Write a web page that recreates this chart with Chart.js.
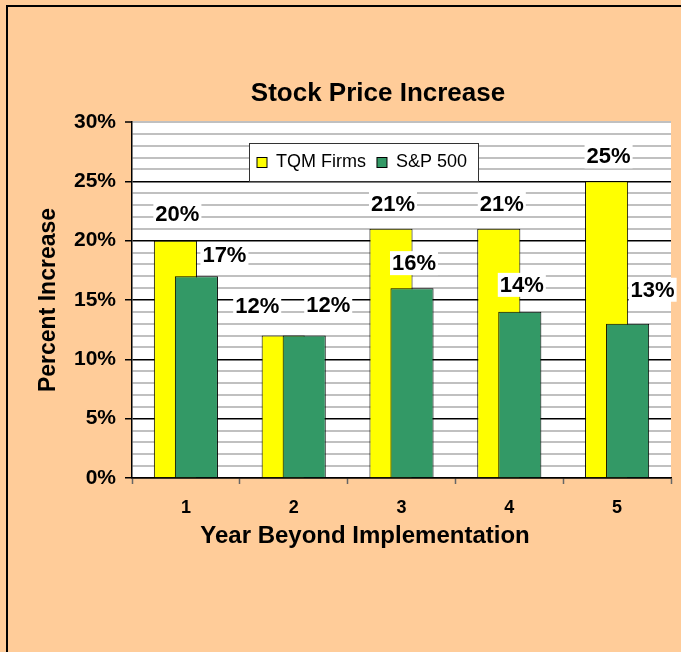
<!DOCTYPE html>
<html>
<head>
<meta charset="utf-8">
<script src="https://cdn.jsdelivr.net/npm/chart.js@4.4.1/dist/chart.umd.min.js"></script>
<style>
  body { margin: 0; background: #FFCC99; width: 681px; height: 652px; overflow: hidden; position: relative; }
  #frame { position: absolute; left: 6px; top: 5px; width: 720px; height: 700px; border-top: 2px solid #000; border-left: 2px solid #000; }
  canvas { position: absolute; left: 0; top: 0; }
</style>
</head>
<body>
<div id="frame"></div>
<canvas id="stockChart" width="681" height="652"></canvas>
<script>
const years = ['1', '2', '3', '4', '5'];
const tqmFirms = [20, 12, 21, 21, 25];
const sp500 = [17, 12, 16, 14, 13];
const yMax = 30;

// the value labels were dragged around by hand in the original, so each gets a nudge (px)
const tqmLabelShift = [[2, -26], [-26, -29], [2, -24], [3, -24], [2, -24]];
const spLabelShift = [[28, -20], [24, -30], [2, -24], [2, -26], [25, -33]];

const FONT = '"Liberation Sans", Arial, sans-serif';

const isMajor = c => c.tick && c.tick.value % 5 === 0;

const plotBackground = {
  id: 'plotBackground',
  beforeDraw(chart) {
    const { ctx, chartArea: a } = chart;
    ctx.save();
    ctx.fillStyle = '#fff';
    ctx.fillRect(a.left, a.top, a.right - a.left, a.bottom - a.top);
    ctx.restore();
  }
};

// green bars sit on top of the yellow ones
const greenOnTop = {
  id: 'greenOnTop',
  beforeDatasetsDraw(chart) {
    chart.getSortedVisibleDatasetMetas().forEach(meta => meta.controller.draw());
    return false;
  }
};

const chartText = {
  id: 'chartText',
  afterDraw(chart) {
    const ctx = chart.ctx;
    const area = chart.chartArea;
    ctx.save();
    ctx.fillStyle = '#000';
    ctx.textAlign = 'center';
    ctx.textBaseline = 'middle';

    ctx.font = 'bold 26px ' + FONT;
    ctx.fillText('Stock Price Increase', 378, 94);
    ctx.font = 'bold 24px ' + FONT;
    ctx.fillText('Year Beyond Implementation', 365, 536);

    // value labels on white boxes
    ctx.font = 'bold 22px ' + FONT;
    const shifts = [tqmLabelShift, spLabelShift];
    chart.data.datasets.forEach((ds, i) => {
      const meta = chart.getDatasetMeta(i);
      meta.data.forEach((bar, j) => {
        const text = ds.data[j] + '%';
        const x = bar.x + shifts[i][j][0];
        const y = bar.y + shifts[i][j][1];
        const w = ctx.measureText(text).width + 4;
        ctx.fillStyle = '#fff';
        ctx.fillRect(x - w / 2, y - 13, w, 24);
        ctx.fillStyle = '#000';
        ctx.fillText(text, x, y);
      });
    });

    // legend box inside the plot
    const lx = area.left + 117.5, ly = area.top + 21.5;
    ctx.fillStyle = '#fff';
    ctx.fillRect(lx, ly, 229, 38);
    ctx.strokeStyle = '#333';
    ctx.lineWidth = 1;
    ctx.strokeRect(lx, ly, 229, 38);
    ctx.font = '18px ' + FONT;
    ctx.textAlign = 'left';
    ctx.textBaseline = 'alphabetic';
    let x = lx + 7.5;
    chart.data.datasets.forEach(ds => {
      ctx.fillStyle = ds.backgroundColor;
      ctx.fillRect(x, ly + 14, 10, 10);
      ctx.strokeStyle = '#000';
      ctx.strokeRect(x, ly + 14, 10, 10);
      ctx.fillStyle = '#000';
      ctx.fillText(ds.label, x + 19, ly + 23);
      x += 19 + ctx.measureText(ds.label).width + 11;
    });
    ctx.restore();
  }
};

new Chart(document.getElementById('stockChart'), {
  type: 'bar',
  data: {
    labels: years,
    datasets: [
      { label: 'TQM Firms', data: tqmFirms, backgroundColor: '#FFFF00', borderColor: '#000', borderWidth: 1 },
      { label: 'S&P 500', data: sp500, backgroundColor: '#339966', borderColor: '#000', borderWidth: 1 }
    ]
  },
  options: {
    responsive: false,
    animation: false,
    events: [],
    layout: { padding: { left: 37.5, right: 10, top: 122, bottom: 105 } },
    datasets: { bar: { categoryPercentage: 0.39, barPercentage: 2.05 } },
    plugins: { legend: { display: false }, title: { display: false }, tooltip: { enabled: false } },
    scales: {
      x: {
        ticks: { color: '#000', padding: 13, font: { family: FONT, size: 18, weight: 'bold' } },
        grid: { drawOnChartArea: false, tickLength: 6, tickColor: '#666', tickWidth: 1.5 },
        border: { color: '#000', width: 1.5 },
        afterFit(scale) { scale.height = 69; }
      },
      y: {
        min: 0,
        max: yMax,
        ticks: {
          stepSize: 1,
          autoSkip: false,
          padding: 9,
          color: '#000',
          font: { family: FONT, size: 21, weight: 'bold' },
          callback: v => v % 5 === 0 ? v + '%' : ''
        },
        grid: {
          color: c => isMajor(c) && c.tick.value !== yMax ? '#000' : '#C0C0C0',
          lineWidth: c => isMajor(c) && c.tick.value !== yMax ? 1.5 : 2,
          tickColor: c => isMajor(c) ? '#000' : 'rgba(0,0,0,0)',
          tickLength: 7,
          tickWidth: 1.5
        },
        border: { color: '#000', width: 1.5 },
        title: {
          display: true,
          text: 'Percent Increase',
          color: '#000',
          padding: 0,
          font: { family: FONT, size: 23, weight: 'bold', lineHeight: 1 }
        },
        afterFit(scale) { scale.width = 94.5; }
      }
    }
  },
  plugins: [plotBackground, greenOnTop, chartText]
});
</script>
</body>
</html>
